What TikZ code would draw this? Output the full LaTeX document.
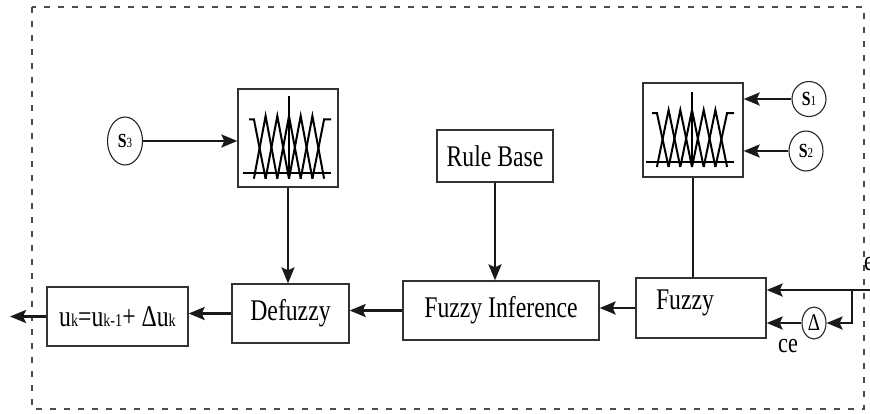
\documentclass[tikz,border=0pt]{standalone}
\usepackage{fontspec}
\setmainfont{Liberation Serif}[FakeStretch=0.79]
\usetikzlibrary{arrows.meta,shapes.geometric}
\newcommand\bigf{\fontsize{30}{34}\selectfont}
\newcommand\smf[1]{{\fontsize{18}{20}\selectfont #1}}
\newcommand\slab[1]{{\fontsize{20}{22}\selectfont\bfseries S}{\fontsize{14}{16}\selectfont #1}}
\begin{document}
\begin{tikzpicture}[x=1pt,y=-1pt,
  box/.style={draw=black!80,line width=1.3pt,rectangle,inner sep=0pt,font=\bigf},
  sig/.style={draw=black!85,line width=1.1pt,ellipse,inner sep=0pt},
  arr/.style={line width=2.6pt,draw=black!90,-{Stealth[length=16pt,width=13pt,inset=3pt]}},
  plain/.style={line width=2.6pt,draw=black!90},
  frame/.style={draw=black!70,line width=1.2pt,dash pattern=on 6pt off 8pt},
  mfshape/.pic={
    \begin{scope}[line width=2pt,line join=miter]
      \draw (-46,32) -- (42,32);
      \draw (0,-38) -- (0,37);
      \draw (-40,-17) -- (-35.1,-17) -- (-23.4,37);
      \draw (42,-17) -- (35.1,-17) -- (23.4,37);
      \foreach \p in {-23.4,-11.7,0,11.7,23.4}{
        \draw (\p-11.7,37) -- (\p,-20) -- (\p+11.7,37);
      }
    \end{scope}
  }
]
\useasboundingbox (0,0) rectangle (870,413);
\draw[frame] (32,7) rectangle (864,409);

% boxes
\node[box,minimum width=100pt,minimum height=98pt] (mfL) at (288,138) {};
\node[box,minimum width=100pt,minimum height=94pt] (mfR) at (693,130) {};
\pic[yscale=1.1] at (289,138) {mfshape};
\pic at (692,130) {mfshape};

\node[box,minimum width=116pt,minimum height=52pt] (rule) at (495,156) {Rule Base};
\node[box,minimum width=196pt,minimum height=59pt] (inf) at (501,310.5) {Fuzzy Inference};
\node[box,minimum width=130pt,minimum height=60pt] (fuz) at (701,308) {};
\node[anchor=base,font=\bigf] (fuzt) at (685,309) {Fuzzy};
\node[box,minimum width=117pt,minimum height=59pt] (defz) at (290.5,313.5) {Defuzzy};
\node[box,minimum width=141pt,minimum height=59pt] (ubox) at (117.5,316.5)
  {u\smf{k}=u\smf{k-1}+ Δu\smf{k}};

% signals
\node[sig,minimum width=34pt,minimum height=35pt] (s1) at (809,99) {\slab{1}};
\node[sig,minimum width=34pt,minimum height=40pt] (s2) at (806,151) {\slab{2}};
\node[sig,minimum width=35pt,minimum height=48pt] (s3) at (125,141) {\slab{3}};
\node[sig,minimum width=24pt,minimum height=32pt] (dl) at (814,323) {\fontsize{24}{26}\selectfont Δ};

\node[anchor=base] (ce) at (788,352) {\fontsize{28}{30}\selectfont ce};
\node[anchor=base west,inner sep=0pt] (elbl) at (864,270) {\fontsize{28}{30}\selectfont e};

\coordinate (out) at (10,313);
\coordinate (ein) at (872,290);
\coordinate (br) at (852,290);

% connectors
\draw[arr] (s3.east) -- (s3.east -| mfL.west);
\draw[arr] (s1.west) -- (s1.west -| mfR.east);
\draw[arr] (s2.west) -- (s2.west -| mfR.east);
\draw[arr] (mfL.south) -- (mfL.south |- defz.north);
\draw[arr] (rule.south) -- (rule.south |- inf.north);
\draw[plain] (mfR.south) -- (mfR.south |- fuz.north);
\draw[arr] (fuz.west) -- (fuz.west -| inf.east);
\draw[arr] (inf.west) -- (inf.west -| defz.east);
\draw[arr] (defz.west) -- (defz.west -| ubox.east);
\draw[arr] (ubox.west) -- (out |- ubox.west);
\draw[arr] (ein) -- (ein -| fuz.east);
\draw[arr] (br) |- (dl.east);
\draw[arr] (dl.west) -- (dl.west -| fuz.east);
\end{tikzpicture}
\end{document}
